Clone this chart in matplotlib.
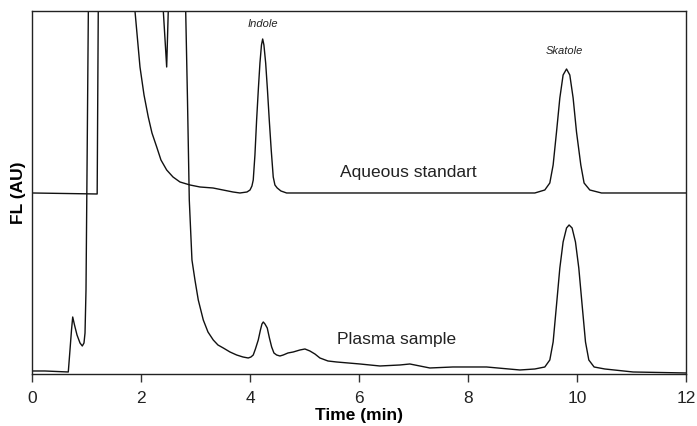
"""
Chromatogram of indole / skatole: aqueous standard vs plasma sample.
Writes out.png (697x426).
"""
import matplotlib
matplotlib.use("Agg")
import matplotlib.pyplot as plt

plt.rcParams["font.family"] = ["Liberation Sans", "DejaVu Sans"]

# signal in arbitrary units; axis shows 0..363, values above that run off scale
TOP = 363
OFF = 420

aq_time = [0.0, 1.19, 1.21, 1.22, 1.80, 1.884, 1.93, 1.976, 2.05, 2.128,
           2.196, 2.283, 2.361, 2.466, 2.582, 2.71, 2.894, 3.077, 3.316,
           3.683, 3.811, 3.94, 3.996, 4.031, 4.055, 4.086, 4.117, 4.15,
           4.178, 4.206, 4.228, 4.251, 4.283, 4.316, 4.349, 4.385, 4.422,
           4.453, 4.495, 4.563, 4.668, 5.279, 6.196, 7.719, 8.582, 9.224,
           9.407, 9.499, 9.56, 9.622, 9.683, 9.743, 9.806, 9.866, 9.927,
           9.989, 10.068, 10.128, 10.233, 10.448, 11.03, 12.0]
aq_signal = [181, 180, 363, OFF, OFF, 363, 335, 307, 279, 257,
             241, 227, 214, 204, 197, 192, 189, 187, 186,
             182, 181, 182, 184, 188, 194, 219, 254, 286,
             311, 329, 335, 329, 311, 284, 254, 224, 197,
             189, 186, 183, 181, 181, 181, 181, 181, 181,
             184, 191, 209, 242, 276, 299, 305, 299, 276,
             242, 209, 191, 184, 181, 181, 181]

pl_time = [0.0, 0.23, 0.66, 0.691, 0.719, 0.741, 0.774, 0.82, 0.875, 0.917,
           0.948, 0.967, 0.985, 1.007, 1.028, 1.05, 2.38, 2.404, 2.466, 2.495,
           2.52, 2.79, 2.815, 2.848, 2.881, 2.93, 2.985, 3.046, 3.138, 3.224,
           3.321, 3.407, 3.505, 3.628, 3.75, 3.866, 3.963, 4.013, 4.055,
           4.095, 4.147, 4.187, 4.215, 4.239, 4.27, 4.312, 4.352, 4.393,
           4.435, 4.484, 4.545, 4.606, 4.692, 4.789, 4.912, 5.004, 5.095,
           5.187, 5.279, 5.426, 5.585, 6.013, 6.38, 6.747, 6.93, 7.113, 7.297,
           7.719, 7.97, 8.338, 8.95, 9.224, 9.407, 9.499, 9.56, 9.622, 9.683,
           9.743, 9.806, 9.853, 9.908, 9.97, 10.031, 10.092, 10.154, 10.215,
           10.312, 10.508, 11.028, 12.0]
pl_signal = [3, 3, 2, 24, 44, 57, 49, 39, 31, 28,
             31, 41, 84, 224, 363, OFF, OFF, 363, 307, 363,
             OFF, OFF, 363, 274, 174, 114, 94, 74, 54, 42,
             34, 29, 26, 22, 19, 17, 16, 17, 19,
             25, 34, 44, 50, 52, 50, 46, 36, 27,
             21, 19, 18, 19, 21, 22, 24, 25, 23,
             20, 16, 13, 12, 10, 8, 9, 10, 8, 6,
             7, 7, 7, 4, 5, 7, 14, 32, 69, 106,
             132, 146, 149, 146, 132, 106, 69, 32, 14,
             7, 5, 2, 1]

x_ticks = [0, 2, 4, 6, 8, 10, 12]

fig = plt.figure(figsize=(6.97, 4.26), dpi=100)
ax = fig.add_axes([0.0464, 0.1221, 0.9379, 0.8521])

for t, s in [(aq_time, aq_signal), (pl_time, pl_signal)]:
    ax.plot(t, s, color="#111111", lw=1.0, solid_joinstyle="round")

ax.set_xlim(0, 12)
ax.set_ylim(0, TOP)
ax.set_xticks(x_ticks)
ax.set_xticklabels([str(t) for t in x_ticks], fontsize=12.5, color="#222222")
ax.set_yticks([])
ax.tick_params(axis="x", direction="out", length=5.5, width=1.0, pad=7,
               color="#333333")
for s in ax.spines.values():
    s.set_linewidth(1.0)
    s.set_color("#222222")

ax.set_xlabel("Time (min)", fontsize=12.5, fontweight="bold", labelpad=1)
ax.set_ylabel("FL (AU)", fontsize=12.5, fontweight="bold")
ax.yaxis.set_label_coords(-0.010, 0.5)

ax.text(4.239, 349.5, "Indole", fontsize=8, style="italic", ha="center",
        va="center", color="#222222")
ax.text(9.773, 323.2, "Skatole", fontsize=8, style="italic", ha="center",
        va="center", color="#222222")
ax.text(5.646, 201.2, "Aqueous standart", fontsize=12.5, ha="left",
        va="center", color="#222222")
ax.text(5.596, 34, "Plasma sample", fontsize=12.5, ha="left",
        va="center", color="#222222")

fig.savefig("out.png", dpi=100)
